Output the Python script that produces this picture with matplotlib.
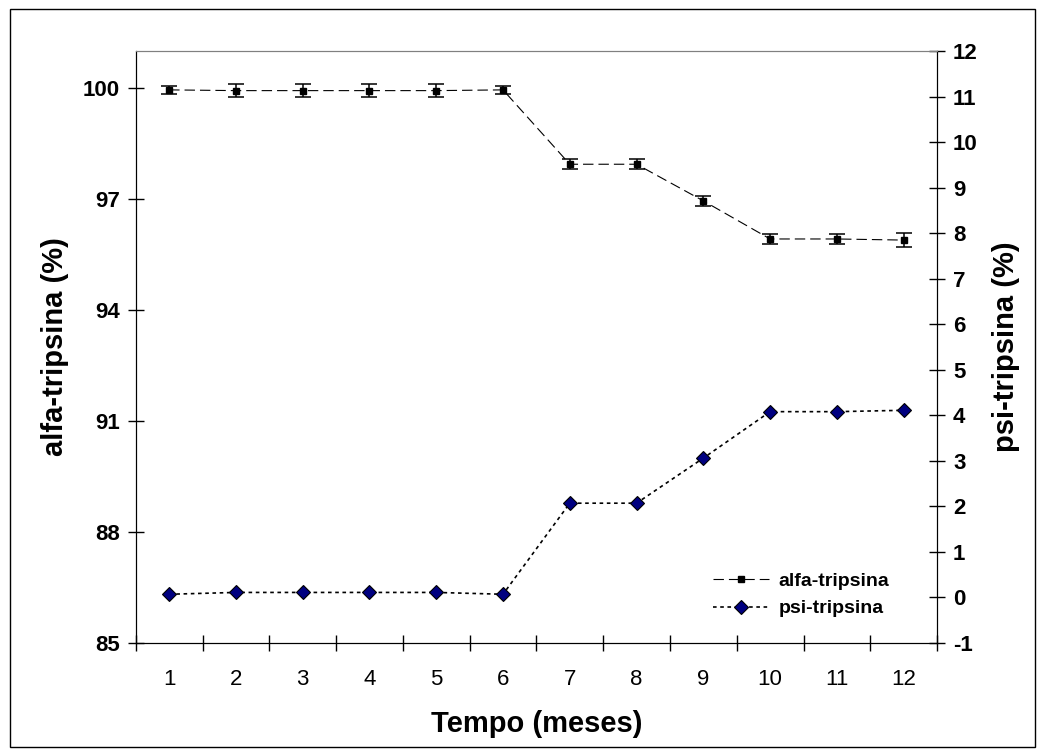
import matplotlib
matplotlib.use("Agg")
import matplotlib.pyplot as plt
from matplotlib.patches import Rectangle
import numpy as np

plt.rcParams['font.family'] = ['Liberation Sans', 'DejaVu Sans']
plt.rcParams['lines.scale_dashes'] = False
plt.rcParams['axes.unicode_minus'] = False

# dados
meses = [1, 2, 3, 4, 5, 6, 7, 8, 9, 10, 11, 12]
alfa = [99.95, 99.93, 99.93, 99.93, 99.93, 99.95, 97.94, 97.94, 96.95, 95.92, 95.92, 95.89]
alfa_err = [0.10, 0.18, 0.18, 0.18, 0.18, 0.10, 0.13, 0.13, 0.13, 0.13, 0.13, 0.19]
psi = [0.07, 0.11, 0.11, 0.11, 0.11, 0.07, 2.07, 2.07, 3.06, 4.08, 4.08, 4.11]

fig = plt.figure(figsize=(10.45, 7.56), dpi=100)
ax = fig.add_axes([0.1299, 0.1495, 0.7668, 0.7830])
ax2 = ax.twinx()

# alfa-tripsina (eixo esquerdo)
ax.errorbar(meses, alfa, yerr=alfa_err, fmt='none', ecolor='black',
            elinewidth=1.1, capsize=6, capthick=1.1, zorder=3)
l1, = ax.plot(meses, alfa, color='black', lw=0.8, linestyle=(0, (7.5, 3.6)),
              marker='s', ms=4.5, mfc='black', mec='black', zorder=4)

# psi-tripsina (eixo direito)
l2, = ax2.plot(meses, psi, color='black', lw=1.2, linestyle=(0, (2.6, 2.6)),
               marker='D', ms=7, mfc='#000080', mec='black', mew=0.8)

ax.set_xlim(0.5, 12.5)
ax.set_ylim(85, 101)
ax2.set_ylim(-1, 12)

ax.set_yticks([85, 88, 91, 94, 97, 100])
ax2.set_yticks(np.arange(-1, 13, 1))

ax.set_xticks(np.arange(0.5, 13, 1))
ax.set_xticklabels([])
ax.set_xticks(meses, minor=True)
ax.set_xticklabels([str(m) for m in meses], minor=True, fontsize=16)
ax.tick_params(axis='x', which='major', direction='inout', length=11, width=1)
ax.tick_params(axis='x', which='minor', length=0, pad=19)
ax.tick_params(axis='y', direction='inout', length=11, width=1, labelsize=16, pad=6)
ax2.tick_params(axis='y', direction='inout', length=11, width=1, labelsize=16, pad=6)
for t in ax.get_yticklabels() + ax2.get_yticklabels():
    t.set_fontweight('bold')

for a in (ax, ax2):
    a.spines['top'].set_color('#808080')
    a.spines['left'].set_color('black')
    a.spines['right'].set_color('black')
    a.spines['bottom'].set_color('black')

ax.set_xlabel('Tempo (meses)', fontsize=21, fontweight='bold', labelpad=14)
ax.set_ylabel('alfa-tripsina (%)', fontsize=21, fontweight='bold', labelpad=10)
ax2.set_ylabel('psi-tripsina (%)', fontsize=21, fontweight='bold', labelpad=10)

ax2.legend([l1, l2], ['alfa-tripsina', 'psi-tripsina'], loc='center left',
           bbox_to_anchor=(695 / 1045, 1 - 595 / 756), bbox_transform=fig.transFigure,
           frameon=False, prop={'weight': 'bold', 'size': 14},
           handlelength=2.9, handletextpad=0.5, labelspacing=0.5)

fig.patches.append(Rectangle((10 / 1045, 9 / 756), 1025 / 1045, 738 / 756,
                             transform=fig.transFigure, fill=False,
                             edgecolor='black', lw=1))

fig.savefig('out.png', dpi=100)
